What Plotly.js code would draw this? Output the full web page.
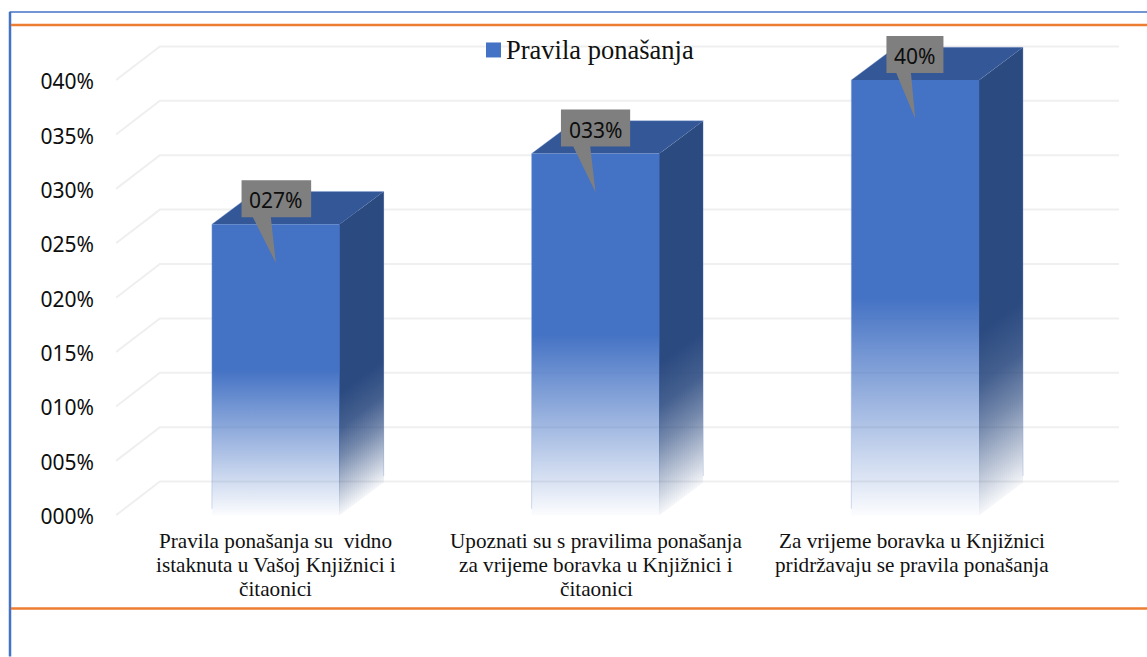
<!DOCTYPE html>
<html>
<head>
<meta charset="utf-8">
<script src="https://cdn.plot.ly/plotly-3.0.1.min.js"></script>
<style>html,body{margin:0;padding:0;background:#fff;overflow:hidden}</style>
</head>
<body>
<div id="chart" style="width:1147px;height:657px"></div>
<script>
var seriesName = "Pravila ponašanja";
var categoryLines = [
  ["Pravila ponašanja su  vidno", "istaknuta u Vašoj Knjižnici i", "čitaonici"],
  ["Upoznati su s pravilima ponašanja", "za vrijeme boravka u Knjižnici i", "čitaonici"],
  ["Za vrijeme boravka u Knjižnici", "pridržavaju se pravila ponašanja"]
];
var values = [26.75, 33.25, 40];
var valueLabels = ["027%", "033%", "40%"];
var tickValues = [0, 5, 10, 15, 20, 25, 30, 35, 40];
var tickLabels = ["000%", "005%", "010%", "015%", "020%", "025%", "030%", "035%", "040%"];

var W = 1147, H = 657;
var plotL = 116, plotR = 1119, plotT = 20, plotBottom = 537.5;
var pxPerCat = 319.7, pxPerPct = 10.89, below = 2;
var depthXpx = 43.9;
var depthX = depthXpx / pxPerCat, depthY = 33.7 / pxPerPct, barDepthY = 32.8 / pxPerPct;
var halfBar = 0.2;
var yTop = (plotBottom - plotT) / pxPerPct - below;
function dx(px) { return px / pxPerCat; }
function dy(px) { return -px / pxPerPct; }   // px measured downward
function x2px(x) { return plotL + (x + 0.5) * pxPerCat; }
function px2x(p) { return (p - plotL) / pxPerCat - 0.5; }
function fy(px) { return 1 - (px - plotT) / (plotBottom - plotT); }
function xp(px) { return (px - plotL) / (plotR - plotL); }
function py2y(p) { return (plotBottom - p) / pxPerPct - below; }

var front = "#4472C4", topC = "#335797";
function fade(rgb) {
  return [[0, "rgba(" + rgb + ",0.02)"], [0.5, "rgba(" + rgb + ",1)"], [1, "rgba(" + rgb + ",1)"]];
}
function sideFade(rgb) {
  return [[0, "rgba(" + rgb + ",0.04)"], [0.1, "rgba(" + rgb + ",0.35)"], [0.2, "rgba(" + rgb + ",0.65)"],
          [0.3, "rgba(" + rgb + ",0.88)"], [0.42, "rgba(" + rgb + ",1)"], [1, "rgba(" + rgb + ",1)"]];
}
var traces = [];
function add(o) { traces.push(Object.assign({type: "scatter", hoverinfo: "skip", showlegend: false}, o)); }

// grid lines: side wall diagonal, then back wall
tickValues.forEach(function (v) {
  add({
    mode: "lines",
    x: [-0.5, -0.5 + depthX, 2.5 + depthX],
    y: [v, v + depthY, v + depthY],
    line: {color: "#EFEFEF", width: 2}
  });
});

// bars
values.forEach(function (v, i) {
  var l = i - halfBar, r = i + halfBar;
  // side face: thin strips on whole pixels, each gradient sheared with the depth
  var startPx = Math.floor(x2px(r)), endPx = Math.round(x2px(r + depthX));
  for (var p = startPx; p < endPx; p += 2) {
    var x0 = px2x(p), x1 = px2x(Math.min(p + 2, endPx));
    var t0 = Math.max(0, (x0 - r) / depthX), t1 = Math.min(1, (x1 - r) / depthX);
    add({
      mode: "none", fill: "toself",
      x: [x0, x1, x1, x0, x0],
      y: [barDepthY * t0, barDepthY * t1, v + barDepthY * t1, v + barDepthY * t0, barDepthY * t0],
      fillgradient: {type: "vertical", colorscale: sideFade("43,74,128")},
      line: {width: 0}
    });
  }
  add({
    mode: "none", fill: "toself",
    x: [l, r, r + depthX, l + depthX, l],
    y: [v, v, v + barDepthY, v + barDepthY, v],
    fillcolor: topC
  });
  add({
    mode: "none", fill: "toself",
    x: [l, r, r, l, l],
    y: [0, 0, v, v, 0],
    fillgradient: {type: "vertical", colorscale: fade("68,114,196")},
    line: {width: 0}
  });
  add({
    mode: "lines",
    x: [l, l, l + depthX, r + depthX, r + depthX],
    y: [0.6, v, v + barDepthY, v + barDepthY, barDepthY + 0.6],
    line: {color: "rgba(140,165,215,0.4)", width: 1}
  });
});

// data-label callouts
var rectHalf = [34.8, 34.6, 28.5];
var rectShift = [0.5, 0, -0.3];
var baseA = [-23, -22.3, -19], baseB = [-5, -5.3, -4.3];
var annotations = [];
values.forEach(function (v, i) {
  var c = i + dx(rectShift[i]), h = dx(rectHalf[i]);
  var top = v + dy(-44), bot = v + dy(-7), tip = v + dy(38.7);
  add({
    mode: "none", fill: "toself", fillcolor: "#7F7F7F",
    x: [c - h, c + h, c + h, i + dx(baseB[i]), i, i + dx(baseA[i]), c - h, c - h],
    y: [top, top, bot, bot, tip, bot, bot, top]
  });
  annotations.push({
    xref: "x", yref: "y", x: c, y: (top + bot) / 2 + dy(1.5),
    text: valueLabels[i], showarrow: false,
    xanchor: "center", yanchor: "middle",
    font: {family: "Noto Sans", size: 21, color: "#0d0d0d"}
  });
});

// category labels
var catShift = [0, 0.5, -3];
var lineCentres = [541.5, 565.5, 590];
categoryLines.forEach(function (lines, i) {
  lines.forEach(function (txt, k) {
    annotations.push({
      xref: "x", yref: "paper", x: i + dx(catShift[i]), y: fy(lineCentres[k]),
      text: txt, showarrow: false, xanchor: "center", yanchor: "middle",
      font: {family: "Liberation Serif", size: 21.2, color: "#111"}
    });
  });
});

// legend key
add({
  mode: "markers", x: [px2x(493.5)], y: [py2y(50)],
  marker: {symbol: "square", size: 15, color: front}, cliponaxis: false
});
annotations.push({
  xref: "x", yref: "y", x: px2x(506), y: py2y(50.5),
  text: seriesName, showarrow: false, xanchor: "left", yanchor: "middle",
  xshift: -2,
  font: {family: "Liberation Serif", size: 26.5, color: "#111"}
});

var frameLine = function (x0, y0, x1, y1, color, w) {
  return {type: "line", xref: "paper", yref: "paper",
    x0: xp(x0), x1: xp(x1), y0: fy(y0), y1: fy(y1),
    line: {color: color, width: w}, layer: "below"};
};

var layout = {
  width: W, height: H,
  margin: {l: plotL, r: W - plotR, t: plotT, b: H - plotBottom, pad: 0},
  paper_bgcolor: "#fff", plot_bgcolor: "rgba(0,0,0,0)",
  showlegend: false,
  xaxis: {
    range: [-0.5, 2.5 + depthX], showgrid: false, zeroline: false, showline: false,
    showticklabels: false, ticks: "", automargin: false
  },
  yaxis: {
    range: [-below, yTop], showgrid: false, zeroline: false, showline: false,
    tickmode: "array",
    tickvals: tickValues.map(function (v) { return v + dy(1.7); }),
    ticktext: tickLabels, ticks: "",
    ticklabelstandoff: 21, automargin: false,
    tickfont: {family: "Noto Sans", size: 21, color: "#0d0d0d"}
  },
  annotations: annotations,
  shapes: [
    frameLine(9.5, 12, 1147, 12, "#4472C4", 1.5),
    frameLine(10, 12, 10, 657, "#4472C4", 2.5),
    frameLine(11, 25, 1147, 25, "#ED7D31", 2.6),
    frameLine(11, 609, 1147, 609, "#ED7D31", 2.6)
  ]
};
Plotly.newPlot("chart", traces, layout, {displayModeBar: false, responsive: false});
</script>
</body>
</html>
